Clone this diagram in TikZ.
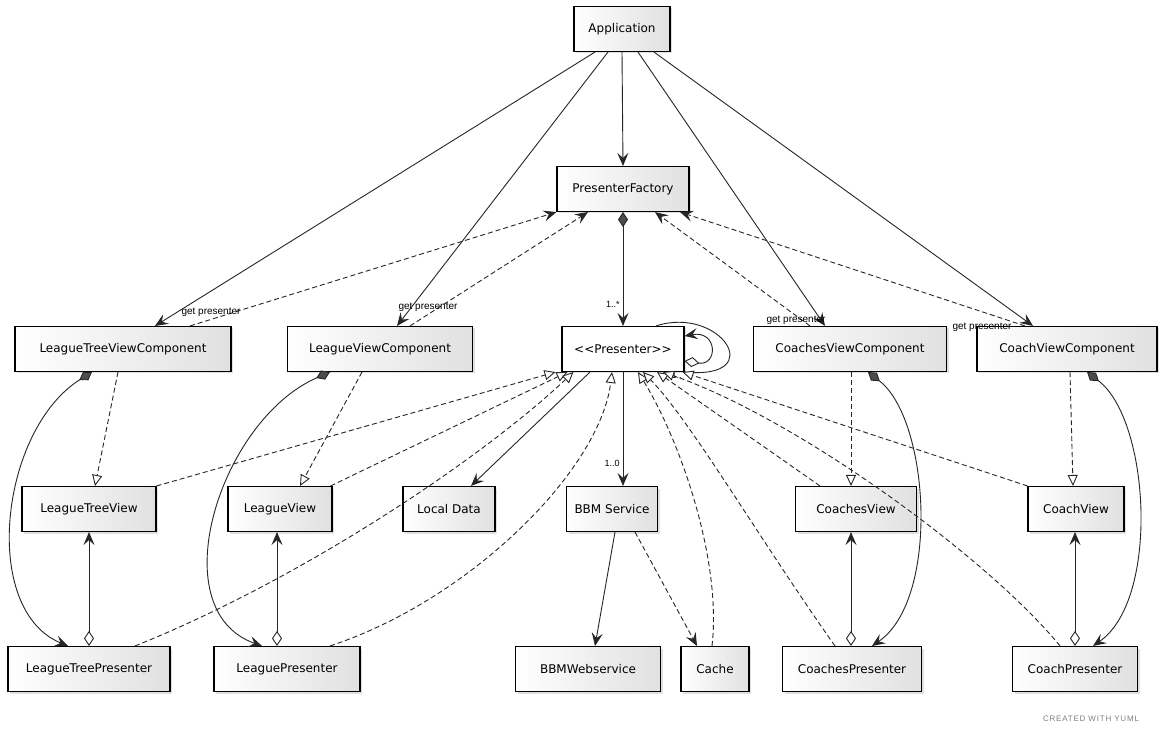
\documentclass[tikz,border=0pt]{standalone}
\usepackage{fontspec}
\setmainfont{DejaVu Sans}
\newfontfamily\lblfamily{Liberation Sans}
\newfontfamily\credfamily[LetterSpace=10]{Liberation Sans}
\usetikzlibrary{arrows.meta,shadows}
\begin{document}
\begin{tikzpicture}[x=1pt,y=-1pt,
 box/.style={draw=black,line width=1.1pt,left color=white,right color=black!12,
   minimum height=45pt,inner sep=0pt,font=\fontsize{12}{14}\selectfont,
   drop shadow={shadow xshift=2pt,shadow yshift=-2pt,opacity=0.12,fill=black}},
 conn/.style={line width=0.9pt,draw=black!85},
 dsh/.style={conn,dash pattern=on 5pt off 3pt},
 arr/.style={-{Stealth[length=13pt,width=11pt,inset=5pt]}},
 real/.style={-{Triangle[length=11pt,width=10pt,fill=white]}},
 comp/.style={{Diamond[length=15pt,width=10pt,fill=black!70]}-{Stealth[length=13pt,width=11pt,inset=5pt]}},
 aggr/.style={{Diamond[length=15pt,width=10pt,fill=white]}-{Stealth[length=13pt,width=11pt,inset=5pt]}},
 lbl/.style={font=\lblfamily\fontsize{10}{11}\selectfont,inner sep=1pt},
 mult/.style={font=\lblfamily\fontsize{9}{10}\selectfont,inner sep=1pt},
]
\fill[white] (0,0) rectangle (1160,735);
\useasboundingbox (0,0) rectangle (1160,735);

% nodes
\node[box,minimum width=96pt] (app) at (622,29) {Application};
\node[box,minimum width=132pt] (pf) at (623,189) {PresenterFactory};
\node[box,minimum width=122pt,left color=white,right color=white] (pres) at (623,349) {<\kern0pt<Presenter>\kern0pt>};
\node[box,minimum width=216pt] (ltvc) at (123,349) {LeagueTreeViewComponent};
\node[box,minimum width=185pt] (lvc) at (380,349) {LeagueViewComponent};
\node[box,minimum width=193pt] (csvc) at (850,349) {CoachesViewComponent};
\node[box,minimum width=180pt] (cvc) at (1067,349) {CoachViewComponent};
\node[box,minimum width=134pt] (ltv) at (89,509) {LeagueTreeView};
\node[box,minimum width=104pt] (lv) at (280,509) {LeagueView};
\node[box,minimum width=92pt] (ld) at (449,509) {Local Data};
\node[box,minimum width=91pt] (bbms) at (612,509) {BBM Service};
\node[box,minimum width=121pt] (csv) at (856,509) {CoachesView};
\node[box,minimum width=96pt] (cv) at (1076,509) {CoachView};
\node[box,minimum width=162pt] (ltp) at (89,669) {LeagueTreePresenter};
\node[box,minimum width=146pt] (lp) at (287,669) {LeaguePresenter};
\node[box,minimum width=145pt] (bbmw) at (588,669) {BBMWebservice};
\node[box,minimum width=68pt] (cache) at (715,669) {Cache};
\node[box,minimum width=139pt] (csp) at (852,669) {CoachesPresenter};
\node[box,minimum width=125pt] (cp) at (1075,669) {CoachPresenter};

% Application associations
\draw[conn,arr] ([xshift=-27pt]app.south) -- ([xshift=32pt]ltvc.north);
\draw[conn,arr] ([xshift=-14pt]app.south) -- ([xshift=17pt]lvc.north);
\draw[conn,arr] (app.south) -- (pf.north);
\draw[conn,arr] ([xshift=16pt]app.south) -- ([xshift=-25pt]csvc.north);
\draw[conn,arr] ([xshift=32pt]app.south) -- ([xshift=-34pt]cvc.north);

% get presenter
\draw[dsh,arr] ([xshift=67pt]ltvc.north) -- node[at start,lbl,xshift=21pt,yshift=14pt]{get presenter} (pf.south west);
\draw[dsh,arr] ([xshift=30pt]lvc.north) -- node[at start,lbl,xshift=18pt,yshift=19pt]{get presenter} ([xshift=-35pt]pf.south);
\draw[dsh,arr] ([xshift=-40pt]csvc.north) -- node[at start,lbl,xshift=-14pt,yshift=6pt]{get presenter} ([xshift=32pt]pf.south);
\draw[dsh,arr] ([xshift=-42pt]cvc.north) -- node[at start,lbl,xshift=-43pt,yshift=-1pt]{get presenter} ([xshift=57pt]pf.south);

% factory to presenter
\draw[conn,comp] (pf.south) -- node[at end,mult,anchor=south east,xshift=-2pt,yshift=17pt]{1..*} (pres.north);

% presenter self loops
\draw[conn,aggr] ([yshift=-12pt]pres.east) .. controls (718,366) and (718,330) .. ([yshift=13pt]pres.east);
\draw[conn] ([xshift=33pt]pres.north) .. controls (720,305) and (770,380) .. node[at end,mult,xshift=-8pt,yshift=-3pt]{1..} (pres.south east);

% presenter dependencies
\draw[conn,arr] ([xshift=-33pt]pres.south) -- ([xshift=22pt]ld.north);
\draw[conn,arr] (pres.south) -- node[at end,mult,anchor=south east,xshift=-2pt,yshift=18pt]{1..0} ([xshift=11pt]bbms.north);

% realizations of Presenter
\draw[dsh,real] (ltv.north east) -- ([xshift=-6pt]pres.south west);
\draw[dsh,real] ([xshift=-2pt]lv.north east) -- ([xshift=6pt]pres.south west);
\draw[dsh,real] ([xshift=46pt]ltp.north) .. controls (300,580) and (480,460) .. ([xshift=12pt]pres.south west);
\draw[dsh,real] ([xshift=43pt]lp.north) .. controls (470,600) and (600,470) .. ([xshift=-11pt]pres.south);
\draw[dsh,real] ([xshift=-3pt]cache.north) .. controls (722,560) and (680,440) .. ([xshift=15pt]pres.south);
\draw[dsh,real] ([xshift=-17pt]csp.north) .. controls (760,540) and (690,420) .. ([xshift=20pt]pres.south);
\draw[dsh,real] ([xshift=-36pt]csv.north) -- ([xshift=34pt]pres.south);
\draw[dsh,real] ([xshift=-15pt]cp.north) .. controls (990,560) and (800,420) .. ([xshift=40pt]pres.south);
\draw[dsh,real] (cv.north west) -- ([xshift=-2pt]pres.south east);

% components realize views
\draw[dsh,real] ([xshift=-5pt]ltvc.south) -- ([xshift=6pt]ltv.north);
\draw[dsh,real] ([xshift=-18pt]lvc.south) -- ([xshift=20pt]lv.north);
\draw[dsh,real] ([xshift=1pt]csvc.south) -- ([xshift=-5pt]csv.north);
\draw[dsh,real] ([xshift=3pt]cvc.south) -- ([xshift=-3pt]cv.north);

% components own presenters
\draw[conn,comp] ([xshift=-31pt]ltvc.south) .. controls (0,430) and (-20,610) .. ([xshift=-21pt]ltp.north);
\draw[conn,comp] ([xshift=-50pt]lvc.south) .. controls (220,420) and (160,610) .. ([xshift=-25pt]lp.north);
\draw[conn,comp] ([xshift=18pt]csvc.south) .. controls (930,420) and (940,600) .. ([xshift=20pt]csp.north);
\draw[conn,comp] ([xshift=20pt]cvc.south) .. controls (1150,420) and (1160,600) .. ([xshift=18pt]cp.north);

% presenters aggregate views
\draw[conn,aggr] (ltp.north) -- (ltv.south);
\draw[conn,aggr] ([xshift=-10pt]lp.north) -- ([xshift=-3pt]lv.south);
\draw[conn,aggr] ([xshift=-1pt]csp.north) -- ([xshift=-5pt]csv.south);
\draw[conn,aggr] (cp.north) -- ([xshift=-1pt]cv.south);

% BBM service
\draw[conn,arr] ([xshift=3pt]bbms.south) -- ([xshift=7pt]bbmw.north);
\draw[dsh,arr] ([xshift=23pt]bbms.south) -- ([xshift=-18pt]cache.north);

\node[font=\credfamily\fontsize{8}{9}\selectfont,text=black!50] (credit) at (1091,719) {CREATED WITH YUML};
\end{tikzpicture}
\end{document}
